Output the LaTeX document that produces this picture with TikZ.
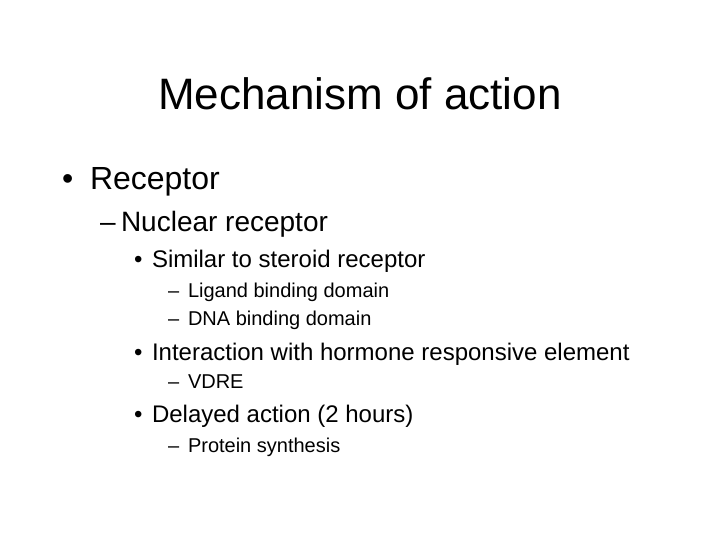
\documentclass[tikz,border=0pt]{standalone}
\usepackage{fontspec}
\setmainfont{Liberation Sans}
\begin{document}
\begin{tikzpicture}[x=1pt,y=-1pt,
  t/.style={anchor=base west,inner sep=0pt,outer sep=0pt},
  lone/.style={t,font=\fontsize{32}{36}\selectfont},
  ltwo/.style={t,font=\fontsize{28}{32}\selectfont},
  lthree/.style={t,font=\fontsize{24}{28}\selectfont},
  lfour/.style={t,font=\fontsize{20}{24}\selectfont}]
\useasboundingbox (0,0) rectangle (720,540);
\node[anchor=base,inner sep=0pt,font=\fontsize{44}{48}\selectfont] (title) at (360,110) {Mechanism of action};
\node[lone] (b1) at (62,190) {•};
\node[lone] (r1) at (90,190) {Receptor};
\node[ltwo] (d2) at (100,232) {–};
\node[ltwo] (r2) at (121,232) {Nuclear receptor};
\node[lthree] (b3a) at (134,267) {•};
\node[lthree] (r3a) at (152,267) {Similar to steroid receptor};
\node[lfour] (d4a) at (168,297) {–};
\node[lfour] (r4a) at (188,297) {Ligand binding domain};
\node[lfour] (d4b) at (168,325) {–};
\node[lfour] (r4b) at (188,325) {DNA binding domain};
\node[lthree] (b3b) at (134,360) {•};
\node[lthree] (r3b) at (152,360) {Interaction with hormone responsive element};
\node[lfour] (d4c) at (168,388) {–};
\node[lfour] (r4c) at (188,388) {VDRE};
\node[lthree] (b3c) at (134,422) {•};
\node[lthree] (r3c) at (152,422) {Delayed action (2 hours)};
\node[lfour] (d4d) at (168,452) {–};
\node[lfour] (r4d) at (188,452) {Protein synthesis};
\end{tikzpicture}
\end{document}
